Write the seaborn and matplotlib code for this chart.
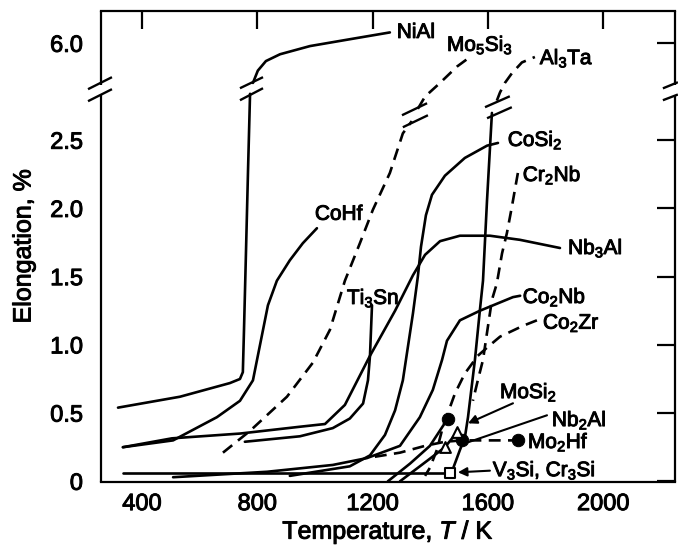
import numpy as np
import pandas as pd
import matplotlib
matplotlib.use("Agg")
import matplotlib.pyplot as plt
import matplotlib.transforms as mtransforms
import matplotlib.patheffects as pe
import seaborn as sns

# ---------------- data (temperature in K, elongation in %) ----------------
NIAL_LO_T = [317, 532, 705, 740, 750, 754, 761, 768, 775]
NIAL_LO_E = [0.54, 0.62, 0.72, 0.75, 0.80, 1.11, 1.69, 2.28, 2.84]
NIAL_HI_T = [785, 802, 830, 879, 983, 1121, 1260]
NIAL_HI_E = [5.71, 5.80, 5.87, 5.92, 5.98, 6.03, 6.08]

COHF_T = [334, 508, 660, 740, 785, 802, 820, 837, 868, 913, 958, 1007]
COHF_E = [0.25, 0.30, 0.47, 0.59, 0.74, 0.92, 1.11, 1.29, 1.47, 1.62, 1.745, 1.855]

MO5SI3_LO_T = [681, 775, 903, 993, 1052, 1104, 1156, 1201, 1260, 1305, 1336]
MO5SI3_LO_E = [0.21, 0.37, 0.62, 0.87, 1.11, 1.47, 1.745, 1.99, 2.26, 2.55, 2.64]
MO5SI3_HI_T = [1357, 1382, 1434, 1493, 1538]
MO5SI3_HI_E = [5.52, 5.61, 5.71, 5.83, 5.90]

AL3TA_LO_T = [1475, 1503, 1520, 1531, 1555, 1572, 1583, 1597, 1614]
AL3TA_LO_E = [0.07, 0.23, 0.32, 0.47, 0.89, 1.25, 1.47, 2.06, 2.70]
AL3TA_HI_T = [1631, 1642, 1659, 1683, 1718, 1763]
AL3TA_HI_E = [5.58, 5.64, 5.71, 5.78, 5.86, 5.90]

COSI2_T = [913, 1121, 1191, 1243, 1278, 1305, 1340, 1357, 1368, 1385, 1406, 1451, 1520, 1597, 1635]
COSI2_E = [0.04, 0.11, 0.19, 0.34, 0.52, 0.74, 1.23, 1.50, 1.72, 1.95, 2.10, 2.24, 2.37, 2.46, 2.48]

CR2NB_T = [1704, 1683, 1666, 1649, 1631, 1614, 1597, 1583, 1565, 1548]
CR2NB_E = [2.26, 2.01, 1.82, 1.67, 1.45, 1.33, 1.09, 0.89, 0.74, 0.59]

NB3AL_T = [334, 504, 740, 948, 1035, 1104, 1191, 1278, 1340, 1382, 1434, 1503, 1607, 1711, 1850]
NB3AL_E = [0.25, 0.315, 0.35, 0.40, 0.42, 0.56, 0.92, 1.25, 1.51, 1.66, 1.76, 1.80, 1.80, 1.77, 1.71]

TI3SN_T = [757, 948, 1062, 1121, 1167, 1184, 1191, 1198]
TI3SN_E = [0.29, 0.33, 0.39, 0.46, 0.57, 0.74, 0.92, 1.29]

CO2NB_T = [508, 834, 1062, 1180, 1295, 1364, 1409, 1441, 1458, 1503, 1572, 1687, 1712]
CO2NB_E = [0.03, 0.07, 0.12, 0.17, 0.26, 0.47, 0.67, 0.89, 1.03, 1.18, 1.25, 1.35, 1.36]

CO2ZR_T = [1770, 1722, 1642, 1597, 1565, 1520, 1486, 1444, 1423, 1399, 1382]
CO2ZR_E = [1.18, 1.14, 1.06, 0.98, 0.92, 0.79, 0.645, 0.40, 0.23, 0.10, 0.04]

MOSI2_T = [1253, 1330, 1399, 1461]
MOSI2_E = [0.0, 0.13, 0.26, 0.46]
MOSI2_PT_T = [1461]
MOSI2_PT_E = [0.46]

NB2AL_T = [1295, 1389, 1451, 1493]
NB2AL_E = [0.0, 0.15, 0.25, 0.36]
NB2AL_PT_T = [1451, 1493]
NB2AL_PT_E = [0.25, 0.36]

MO2HF_T = [1208, 1295, 1382, 1451, 1510, 1704]
MO2HF_E = [0.18, 0.21, 0.26, 0.29, 0.30, 0.30]
MO2HF_PT_T = [1510, 1704]
MO2HF_PT_E = [0.30, 0.30]

V3SI_T = [334, 1468]
V3SI_E = [0.06, 0.06]
V3SI_PT_T = [1468]
V3SI_PT_E = [0.06]

X_TICKS = [400, 800, 1200, 1600, 2000]
Y_TICKS = [0, 0.5, 1.0, 1.5, 2.0, 2.5, 6.0]
Y_TICK_LABELS = ["0", "0.5", "1.0", "1.5", "2.0", "2.5", "6.0"]

# broken axis: values above the break are shifted down
BREAK_SHIFT = 2.79


def disp(e):
    e = np.asarray(e, dtype=float)
    return np.where(e > 4, e - BREAK_SHIFT, e)


segments = [
    ("NiAl-lo", NIAL_LO_T, NIAL_LO_E, "solid"),
    ("NiAl-hi", NIAL_HI_T, NIAL_HI_E, "solid"),
    ("CoHf", COHF_T, COHF_E, "solid"),
    ("Mo5Si3-lo", MO5SI3_LO_T, MO5SI3_LO_E, "dashed"),
    ("Mo5Si3-hi", MO5SI3_HI_T, MO5SI3_HI_E, "dashed"),
    ("Al3Ta-lo", AL3TA_LO_T, AL3TA_LO_E, "solid"),
    ("Al3Ta-hi", AL3TA_HI_T, AL3TA_HI_E, "dashed"),
    ("CoSi2", COSI2_T, COSI2_E, "solid"),
    ("Cr2Nb", CR2NB_T, CR2NB_E, "dashed"),
    ("Nb3Al", NB3AL_T, NB3AL_E, "solid"),
    ("Ti3Sn", TI3SN_T, TI3SN_E, "solid"),
    ("Co2Nb", CO2NB_T, CO2NB_E, "solid"),
    ("Co2Zr", CO2ZR_T, CO2ZR_E, "dashed"),
    ("MoSi2", MOSI2_T, MOSI2_E, "solid"),
    ("Nb2Al", NB2AL_T, NB2AL_E, "solid"),
    ("Mo2Hf", MO2HF_T, MO2HF_E, "dashed"),
    ("V3Si", V3SI_T, V3SI_E, "solid"),
]

rows = []
for name, T, E, style in segments:
    for t, y in zip(T, disp(E)):
        rows.append({"seg": name, "T": t, "Y": float(y), "style": style})
df = pd.DataFrame(rows)

# ---------------- style ----------------
sns.set_style("white")
plt.rcParams["font.family"] = ["Liberation Sans", "DejaVu Sans"]
plt.rcParams["mathtext.fontset"] = "custom"
plt.rcParams["mathtext.rm"] = "Liberation Sans"
plt.rcParams["mathtext.it"] = "Liberation Sans:italic"
plt.rcParams["mathtext.bf"] = "Liberation Sans:bold"
plt.rcParams["mathtext.default"] = "regular"
for k in ["text.color", "axes.labelcolor", "xtick.color", "ytick.color", "axes.edgecolor"]:
    plt.rcParams[k] = "black"

LW = 1.9
DASH = (0, (4.5, 2.8))
THICK = [pe.withStroke(linewidth=0.7, foreground="black")]

fig = plt.figure(figsize=(6.78, 5.48), dpi=100)
ax = fig.add_axes([101 / 678, 1 - 482 / 548, 574 / 678, 471 / 548])

for name, _, _, style in segments:
    sub = df[df["seg"] == name]
    sns.lineplot(data=sub, x="T", y="Y", sort=False, estimator=None, ax=ax,
                 color="black", linewidth=LW,
                 linestyle=("-" if style == "solid" else DASH),
                 solid_joinstyle="round", dash_joinstyle="round",
                 legend=False)

# markers
sns.scatterplot(x=MOSI2_PT_T + MO2HF_PT_T, y=MOSI2_PT_E + MO2HF_PT_E, ax=ax,
                marker="o", s=80, color="black", edgecolor="black", zorder=6, legend=False)
sns.scatterplot(x=NB2AL_PT_T, y=NB2AL_PT_E, ax=ax, marker="^", s=60,
                facecolor="white", edgecolor="black", linewidth=1.5, zorder=6, legend=False)
sns.scatterplot(x=V3SI_PT_T, y=V3SI_PT_E, ax=ax, marker="s", s=55,
                facecolor="white", edgecolor="black", linewidth=1.5, zorder=6, legend=False)

ax.set_xlim(258, 2249)
ax.set_ylim(-0.005, 3.447)

# ticks
ax.set_xticks(X_TICKS)
ax.set_xticklabels([str(t) for t in X_TICKS])
ax.set_yticks([float(v) for v in disp(Y_TICKS)])
ax.set_yticklabels(Y_TICK_LABELS)
ax.tick_params(axis="both", direction="in", length=13, width=1.6,
               top=True, right=True, labelsize=17, color="black", labelcolor="black")
ax.tick_params(axis="y", pad=13)
ax.tick_params(axis="x", pad=8)
for lab in ax.get_xticklabels() + ax.get_yticklabels():
    lab.set_path_effects(THICK)

ax.set_xlabel(r"Temperature, $\mathit{T}$ / K", fontsize=18, va="top")
ax.set_ylabel("Elongation, %", fontsize=18, va="center")
ax.xaxis.set_label_coords(0.5, -0.076)
ax.yaxis.set_label_coords(-0.135, 0.5)
ax.xaxis.label.set_path_effects(THICK)
ax.yaxis.label.set_path_effects(THICK)

# spines with breaks on left and right
for s in ["top", "bottom"]:
    ax.spines[s].set_linewidth(1.6)
    ax.spines[s].set_color("black")
ax.spines["left"].set_visible(False)
ax.spines["right"].set_visible(False)
blend = mtransforms.blended_transform_factory(ax.transAxes, ax.transData)
y0, y1 = ax.get_ylim()
for xa in (0, 1):
    ax.plot([xa, xa], [y0, 2.83], transform=blend, color="black", lw=1.6,
            clip_on=False, solid_capstyle="butt")
    ax.plot([xa, xa], [2.905, y1], transform=blend, color="black", lw=1.6,
            clip_on=False, solid_capstyle="butt")

# break marks (x in K, y in displayed units)
break_marks = [
    ((213, 296), (2.786, 2.874)), ((213, 296), (2.874, 2.962)),      # left spine
    ((2207, 2259), (2.793, 2.835)), ((2207, 2259), (2.880, 2.925)),  # right spine
    ((740, 820), (2.793, 2.881)), ((740, 820), (2.881, 2.962)),      # NiAl
    ((1305, 1392), (2.595, 2.683)), ((1302, 1389), (2.683, 2.771)),  # Mo5Si3
    ((1597, 1683), (2.661, 2.742)), ((1590, 1676), (2.742, 2.822)),  # Al3Ta
]
for (xs, ys) in break_marks:
    ax.plot(xs, ys, color="black", lw=1.7, clip_on=False, solid_capstyle="butt")

# labels
FS = 15
labels = [
    ("NiAl", 1284, 3.29),
    (r"Mo$_5$Si$_3$", 1458, 3.197),
    (r"Al$_3$Ta", 1780, 3.10),
    (r"CoSi$_2$", 1669, 2.50),
    (r"Cr$_2$Nb", 1721, 2.243),
    ("CoHf", 1000, 1.957),
    (r"Nb$_3$Al", 1878, 1.708),
    (r"Ti$_3$Sn", 1111, 1.342),
    (r"Co$_2$Nb", 1721, 1.349),
    (r"Co$_2$Zr", 1791, 1.158),
    (r"MoSi$_2$", 1642, 0.652),
    (r"Nb$_2$Al", 1822, 0.447),
    (r"Mo$_2$Hf", 1739, 0.286),
    (r"V$_3$Si, Cr$_3$Si", 1617, 0.08),
]
for txt, x, y in labels:
    ax.text(x, y, txt, fontsize=FS, ha="left", va="center", color="black",
            path_effects=THICK)

# leader lines / arrows
arrow_kw = dict(arrowstyle="-|>", color="black", lw=1.5, mutation_scale=13,
                shrinkA=0, shrinkB=0)
ax.annotate("", xy=(1531, 0.425), xytext=(1687, 0.572), arrowprops=arrow_kw)
ax.annotate("", xy=(1496, 0.066), xytext=(1607, 0.078), arrowprops=arrow_kw)
ax.plot([1805, 1531], [0.484, 0.286], color="black", lw=1.5)

fig.savefig("out.png", dpi=100)
